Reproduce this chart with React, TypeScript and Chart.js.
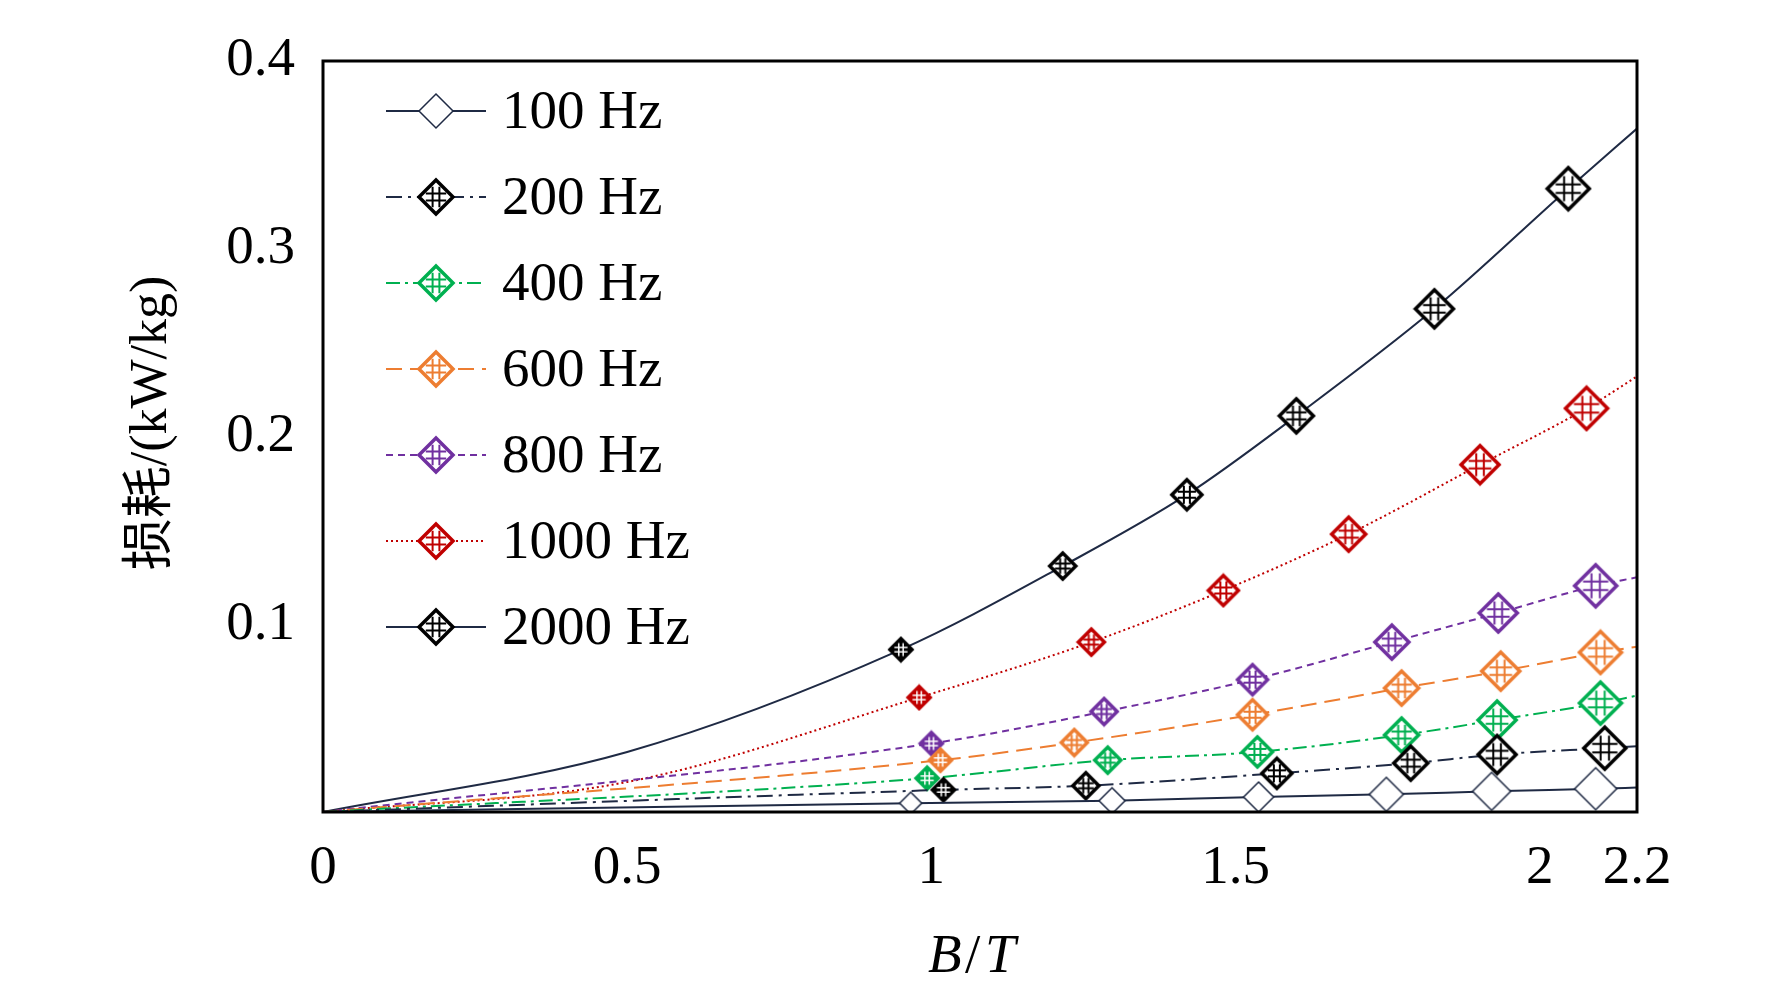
import React, { useEffect, useRef } from 'react';
import { Chart, registerables } from 'chart.js';

Chart.register(...registerables);

const X_MAX = 2.16; // right frame edge, labelled "2.2"
const xTicks = [0, 0.5, 1, 1.5, 2, X_MAX];
const yTicks = [0.1, 0.2, 0.3, 0.4];

const labels = ['100 Hz', '200 Hz', '400 Hz', '600 Hz', '800 Hz', '1000 Hz', '2000 Hz'];
const lineColors = ['#1f2a44', '#1f2a44', '#00b050', '#ed7d31', '#7030a0', '#c00000', '#1f2a44'];
const markColors = ['#1f2a44', '#000000', '#00b050', '#ed7d31', '#7030a0', '#c00000', '#000000'];
const dashes = [[], [16, 6, 3, 6], [14, 5, 3, 5], [16, 8], [7, 5], [2, 3], []];

const bx100 = [0, 0.966, 1.297, 1.538, 1.748, 1.921, 2.092, X_MAX];
const p100 = [0, 0.0047, 0.006, 0.008, 0.0094, 0.011, 0.0124, 0.013];
const bx200 = [0, 1.02, 1.254, 1.568, 1.788, 1.93, 2.107, X_MAX];
const p200 = [0, 0.0118, 0.014, 0.0206, 0.026, 0.0306, 0.034, 0.035];
const bx400 = [0, 0.993, 1.29, 1.536, 1.773, 1.93, 2.1, X_MAX];
const p400 = [0, 0.018, 0.0276, 0.032, 0.041, 0.049, 0.058, 0.062];
const bx600 = [0, 1.015, 1.235, 1.528, 1.773, 1.936, 2.1, X_MAX];
const p600 = [0, 0.0276, 0.037, 0.0518, 0.066, 0.075, 0.085, 0.088];
const bx800 = [0, 1.0, 1.284, 1.528, 1.757, 1.932, 2.092, X_MAX];
const p800 = [0, 0.0365, 0.0535, 0.0705, 0.0905, 0.106, 0.1205, 0.125];
const bx1000 = [0, 0.5, 0.98, 1.263, 1.48, 1.686, 1.902, 2.077, X_MAX];
const p1000 = [0, 0.016, 0.061, 0.0905, 0.118, 0.148, 0.185, 0.215, 0.232];
const bx2000 = [0, 0.5, 0.95, 1.216, 1.42, 1.6, 1.827, 2.047, X_MAX];
const p2000 = [0, 0.032, 0.0865, 0.131, 0.169, 0.211, 0.268, 0.332, 0.364];

const xs = [bx100, bx200, bx400, bx600, bx800, bx1000, bx2000];
const ys = [p100, p200, p400, p600, p800, p1000, p2000];

function makeMarker(color: string, size: number, filled: boolean, hollow: boolean) {
  const c = document.createElement('canvas');
  const s = Math.ceil(size + 6);
  c.width = s; c.height = s;
  const g = c.getContext('2d')!;
  const m = s / 2, r = size / 2;
  g.beginPath();
  g.moveTo(m, m - r); g.lineTo(m + r, m); g.lineTo(m, m + r); g.lineTo(m - r, m); g.closePath();
  g.fillStyle = filled ? color : '#ffffff';
  g.fill();
  g.lineWidth = hollow ? 1.5 : 3.5;
  g.strokeStyle = color;
  g.stroke();
  if (!hollow) {
    g.lineWidth = filled ? 1.5 : 2;
    g.strokeStyle = filled ? '#ffffff' : color;
    const a = r * 0.6, h = r * 0.2;
    g.beginPath();
    g.moveTo(m - h, m - a); g.lineTo(m - h, m + a);
    g.moveTo(m + h, m - a); g.lineTo(m + h, m + a);
    g.moveTo(m - a, m - h); g.lineTo(m + a, m - h);
    g.moveTo(m - a, m + h); g.lineTo(m + a, m + h);
    g.stroke();
  }
  return c;
}

const frame = {
  id: 'frame',
  afterDraw(chart: any) {
    const { ctx, chartArea: a } = chart;
    ctx.save();
    ctx.strokeStyle = '#000';
    ctx.lineWidth = 3;
    ctx.strokeRect(a.left, a.top, a.right - a.left, a.bottom - a.top);
    // legend
    ctx.font = '55px "Liberation Serif", "Times New Roman", serif';
    ctx.textBaseline = 'middle';
    labels.forEach((t, i) => {
      const y = 111 + i * 86;
      ctx.strokeStyle = lineColors[i];
      ctx.lineWidth = 2;
      ctx.setLineDash(dashes[i]);
      ctx.beginPath(); ctx.moveTo(386, y); ctx.lineTo(486, y); ctx.stroke();
      ctx.setLineDash([]);
      const mk = makeMarker(markColors[i], 34, false, i === 0);
      ctx.drawImage(mk, 436 - mk.width / 2, y - mk.height / 2);
      ctx.fillStyle = '#000';
      ctx.fillText(t, 502, y + 3);
    });
    // axis titles
    ctx.textBaseline = 'alphabetic';
    ctx.font = 'italic 55px "Liberation Serif", serif';
    ctx.fillText('B', 928, 972);
    ctx.font = '55px "Liberation Serif", serif';
    ctx.fillText('/', 965, 972);
    ctx.font = 'italic 55px "Liberation Serif", serif';
    ctx.fillText('T', 985, 972);
    ctx.translate(166, 423);
    ctx.rotate(-Math.PI / 2);
    ctx.textAlign = 'center';
    ctx.font = '52px "Liberation Serif", "Noto Sans CJK SC", serif';
    ctx.fillText('损耗/(kW/kg)', 0, 0);
    ctx.restore();
  },
};

export default function App() {
  const ref = useRef<HTMLCanvasElement | null>(null);
  useEffect(() => {
    if (!ref.current) return;
    const datasets = ys.map((yv, i) => {
      const n = yv.length;
      const marks = yv.map((_, j) => {
        const k = j - (n - 7);
        const size = 22 + Math.max(k, 0) * 4;
        return makeMarker(markColors[i], size, k === 0 && i > 0, i === 0);
      });
      return {
        label: labels[i],
        data: yv.map((y, j) => ({ x: xs[i][j], y })),
        borderColor: lineColors[i],
        borderWidth: 2,
        borderDash: dashes[i],
        cubicInterpolationMode: 'monotone' as const,
        pointStyle: marks as any,
        pointRadius: yv.map((_, j) => (j === 0 || j === n - 1 || (n === 9 && j === 1) ? 0 : 14)),
        fill: false,
      };
    });
    const font = { family: '"Liberation Serif", serif', size: 55 };
    const chart = new Chart(ref.current, {
      type: 'line',
      data: { datasets },
      plugins: [frame],
      options: {
        animation: false,
        responsive: false,
        layout: { padding: { top: 37, right: 135, left: 0, bottom: 0 } },
        plugins: { legend: { display: false }, tooltip: { enabled: false } },
        scales: {
          x: {
            type: 'linear', min: 0, max: X_MAX,
            grid: { display: false, drawTicks: false }, border: { display: false },
            afterBuildTicks: (s: any) => { s.ticks = xTicks.map(v => ({ value: v })); },
            afterFit: (s: any) => { s.height = 172; },
            ticks: { color: '#000', font, padding: 24, maxRotation: 0,
              callback: (v: any) => (v >= 2.15 ? '2.2' : String(v)) },
          },
          y: {
            min: 0, max: 0.4,
            grid: { display: false, drawTicks: false }, border: { display: false },
            afterBuildTicks: (s: any) => { s.ticks = yTicks.map(v => ({ value: v })); },
            afterFit: (s: any) => { s.width = 323; },
            ticks: { color: '#000', font, padding: 28, callback: (v: any) => String(v) },
          },
        },
      },
    });
    return () => chart.destroy();
  }, []);
  return (
    <div style={{ position: 'fixed', left: 0, top: 0, width: 1772, height: 984, background: '#fff' }}>
      <canvas ref={ref} width={1772} height={984} />
    </div>
  );
}
